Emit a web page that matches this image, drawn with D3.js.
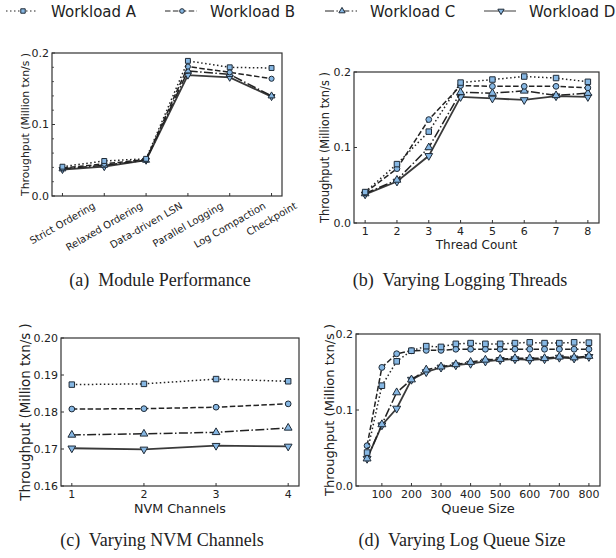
<!DOCTYPE html>
<html>
<head>
<meta charset="utf-8">
<script src="https://cdn.jsdelivr.net/npm/d3@7"></script>
<style>
  body { margin: 0; background: #fff; }
  text { font-family: "DejaVu Sans", sans-serif; fill: #222; }
  .caption { font-family: "Liberation Serif", serif; white-space: pre; }
</style>
</head>
<body>
<div id="container"></div>
<script>
/* DATA */
const workloads = ["Workload A", "Workload B", "Workload C", "Workload D"];

const moduleCats = ["Strict Ordering", "Relaxed Ordering", "Data-driven LSN", "Parallel Logging", "Log Compaction", "Checkpoint"];
const moduleA = [0.041, 0.049, 0.052, 0.189, 0.180, 0.179];
const moduleB = [0.039, 0.045, 0.051, 0.181, 0.173, 0.164];
const moduleC = [0.038, 0.043, 0.050, 0.175, 0.170, 0.140];
const moduleD = [0.037, 0.041, 0.050, 0.169, 0.166, 0.139];

const threadCounts = [1, 2, 3, 4, 5, 6, 7, 8];
const threadA = [0.041, 0.078, 0.121, 0.186, 0.190, 0.194, 0.192, 0.187];
const threadB = [0.040, 0.072, 0.137, 0.182, 0.181, 0.181, 0.181, 0.179];
const threadC = [0.039, 0.057, 0.100, 0.173, 0.172, 0.175, 0.169, 0.172];
const threadD = [0.038, 0.055, 0.089, 0.167, 0.165, 0.163, 0.168, 0.167];

const channels = [1, 2, 3, 4];
const channelA = [0.1874, 0.1876, 0.1889, 0.1883];
const channelB = [0.1808, 0.1809, 0.1813, 0.1822];
const channelC = [0.1738, 0.1741, 0.1745, 0.1757];
const channelD = [0.1702, 0.1699, 0.1709, 0.1707];

const queueSizes = [50, 100, 150, 200, 250, 300, 350, 400, 450, 500, 550, 600, 650, 700, 750, 800];
const queueA = [0.044, 0.132, 0.164, 0.178, 0.184, 0.183, 0.187, 0.188, 0.187, 0.187, 0.188, 0.189, 0.188, 0.188, 0.189, 0.1886];
const queueB = [0.053, 0.156, 0.174, 0.178, 0.1785, 0.1785, 0.180, 0.180, 0.180, 0.180, 0.180, 0.180, 0.180, 0.180, 0.180, 0.180];
const queueC = [0.036, 0.081, 0.123, 0.140, 0.153, 0.157, 0.160, 0.163, 0.166, 0.167, 0.168, 0.168, 0.168, 0.170, 0.169, 0.171];
const queueD = [0.036, 0.080, 0.102, 0.140, 0.150, 0.156, 0.159, 0.161, 0.164, 0.166, 0.167, 0.166, 0.167, 0.169, 0.168, 0.170];

/* STYLE */
const W = 616, H = 558;
const fillBlue = "#86b7e3";
const edge = "#1f2a36";
const dashes = ["1.5,2.5", "5.5,2.4", "9,2.4,1.5,2.4", null];
const lineColors = ["#222", "#222", "#222", "#3a3a3a"];
const lineWidths = [1.5, 1.5, 1.5, 1.8];
const symbols = [d3.symbolSquare, d3.symbolCircle, d3.symbolTriangle, d3.symbolTriangle];
const symRotate = [0, 0, 0, 180];
const symSize = [30, 26, 26, 26];

const svg = d3.select("#container").append("svg")
  .attr("width", W).attr("height", H);

function drawMarker(g, k, x, y, scale = 1) {
  g.append("path")
    .attr("d", d3.symbol().type(symbols[k]).size(symSize[k] * scale)())
    .attr("transform", `translate(${x},${y}) rotate(${symRotate[k]})`)
    .attr("fill", fillBlue)
    .attr("stroke", edge)
    .attr("stroke-width", 1);
}

/* LEGEND */
const legendX = [6, 165, 325, 484];
workloads.forEach((name, k) => {
  const g = svg.append("g").attr("transform", `translate(${legendX[k]},11)`);
  g.append("line").attr("x1", 0).attr("x2", 32)
    .attr("stroke", lineColors[k]).attr("stroke-width", 1)
    .attr("stroke-dasharray", dashes[k]);
  drawMarker(g, k, 17, 0, 0.65);
  g.append("text").attr("x", 45).attr("y", 6).style("font-size", "15px").text(name);
});

/* PANELS */
const panels = [
  { box: [52, 282, 53, 196], xs: moduleCats.map((d, i) => i), xDomain: [-0.25, 5.25],
    yDomain: [0, 0.2], yTicks: [0, 0.1, 0.2], yFmt: ".1f", series: [moduleA, moduleB, moduleC, moduleD],
    cats: moduleCats, yLabelX: 25, yLabelSize: 10.8, minor: true,
    caption: "(a)  Module Performance", capX: 160, capY: 286, mScale: 0.8 },
  { box: [354, 599, 72, 223], xs: threadCounts, xDomain: [0.65, 8.35], xTicks: threadCounts,
    yDomain: [0, 0.2], yTicks: [0, 0.1, 0.2], yFmt: ".1f", series: [threadA, threadB, threadC, threadD],
    xLabel: "Thread Count", xLabelSize: 12, xLabelY: 248.5, yLabelX: 325, yLabelSize: 11.4,
    caption: "(b)  Varying Logging Threads", capX: 460, capY: 286, mScale: 1 },
  { box: [61, 299, 338, 486], xs: channels, xDomain: [0.85, 4.15], xTicks: channels,
    yDomain: [0.16, 0.20], yTicks: [0.16, 0.17, 0.18, 0.19, 0.20], yFmt: ".2f", series: [channelA, channelB, channelC, channelD],
    xLabel: "NVM Channels", xLabelSize: 12.7, xLabelY: 512.5, yLabelX: 25, yLabelSize: 13.4,
    caption: "(c)  Varying NVM Channels", capX: 162, capY: 546, mScale: 1 },
  { box: [356, 600, 334, 486], xs: queueSizes, xDomain: [12.5, 837.5], xTicks: [100, 200, 300, 400, 500, 600, 700, 800],
    yDomain: [0, 0.2], yTicks: [0, 0.1, 0.2], yFmt: ".1f", series: [queueA, queueB, queueC, queueD],
    xLabel: "Queue Size", xLabelSize: 13, xLabelY: 512.5, yLabelX: 329, yLabelSize: 13,
    caption: "(d)  Varying Log Queue Size", capX: 462, capY: 546, mScale: 1.05 }
];

panels.forEach(p => {
  const [x0, x1, y0, y1] = p.box;
  const xScale = d3.scaleLinear().domain(p.xDomain).range([x0, x1]);
  const yScale = d3.scaleLinear().domain(p.yDomain).range([y1, y0]);
  const g = svg.append("g");

  // lines and markers (D drawn first so A sits on top)
  [3, 2, 1, 0].forEach(k => {
    const vals = p.series[k];
    const line = d3.line().x((d, i) => xScale(p.xs[i])).y(d => yScale(d));
    g.append("path").datum(vals)
      .attr("d", line)
      .attr("fill", "none")
      .attr("stroke", lineColors[k])
      .attr("stroke-width", lineWidths[k])
      .attr("stroke-dasharray", dashes[k]);
    vals.forEach((v, i) => drawMarker(g, k, xScale(p.xs[i]), yScale(v), p.mScale));
  });

  // frame
  g.append("rect").attr("x", x0).attr("y", y0)
    .attr("width", x1 - x0).attr("height", y1 - y0)
    .attr("fill", "none").attr("stroke", "#333").attr("stroke-width", 1.2);

  // y ticks
  const fmt = d3.format(p.yFmt);
  p.yTicks.forEach(t => {
    const y = yScale(t);
    g.append("line").attr("x1", x0).attr("x2", x0 + 3).attr("y1", y).attr("y2", y)
      .attr("stroke", "#333");
    g.append("text").attr("x", x0 - 3).attr("y", y).attr("dy", "0.36em")
      .attr("text-anchor", "end").style("font-size", "11px").text(fmt(t));
  });
  if (p.minor) {
    d3.range(0.02, 0.2, 0.02).forEach(t => {
      const y = yScale(t);
      g.append("line").attr("x1", x0).attr("x2", x0 + 2).attr("y1", y).attr("y2", y)
        .attr("stroke", "#333").attr("stroke-width", 0.8);
    });
  }

  // x ticks
  if (p.cats) {
    p.cats.forEach((c, i) => {
      const x = xScale(i);
      g.append("line").attr("x1", x).attr("x2", x).attr("y1", y1).attr("y2", y1 - 3)
        .attr("stroke", "#333");
      const t = g.append("text").style("font-size", "10px")
        .attr("text-anchor", "middle").attr("dy", "0.35em").text(c);
      const w = t.node().getComputedTextLength();
      const bh = w * 0.5 + 11 * 0.866;
      const cy = y1 + 4 + bh / 2;
      t.attr("transform", `translate(${x},${cy}) rotate(-30)`);
    });
  } else {
    p.xTicks.forEach(v => {
      const x = xScale(v);
      g.append("line").attr("x1", x).attr("x2", x).attr("y1", y1).attr("y2", y1 - 3)
        .attr("stroke", "#333");
      g.append("text").attr("x", x).attr("y", y1 + 12)
        .attr("text-anchor", "middle").style("font-size", "11px").text(v);
    });
    g.append("text").attr("x", (x0 + x1) / 2).attr("y", p.xLabelY)
      .attr("text-anchor", "middle").style("font-size", p.xLabelSize + "px").text(p.xLabel);
  }

  // y label
  g.append("text")
    .attr("transform", `translate(${p.yLabelX},${(y0 + y1) / 2}) rotate(-90)`)
    .attr("text-anchor", "middle").attr("dy", "0.36em")
    .style("font-size", p.yLabelSize + "px")
    .text("Throughput (Million txn/s )");

  // caption
  g.append("text").attr("class", "caption")
    .attr("x", p.capX).attr("y", p.capY)
    .attr("text-anchor", "middle").style("font-size", "18px")
    .text(p.caption);
});
</script>
</body>
</html>
